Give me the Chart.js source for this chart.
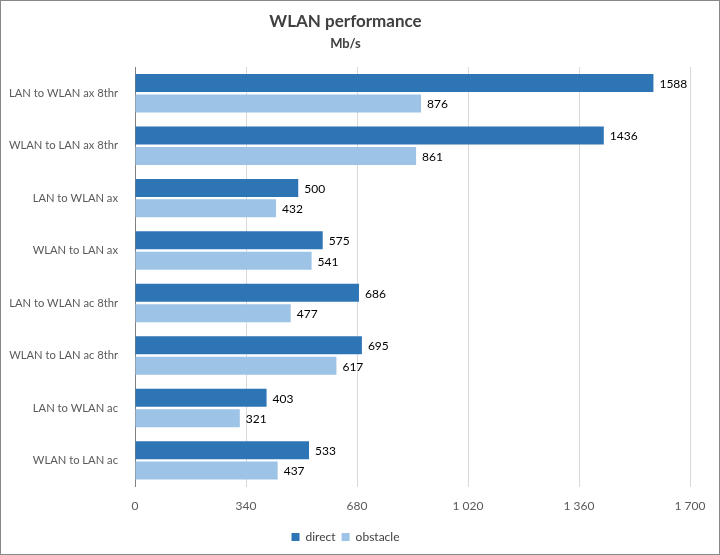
<!DOCTYPE html>
<html>
<head>
<meta charset="utf-8">
<script src="https://cdn.jsdelivr.net/npm/chart.js@4/dist/chart.umd.min.js"></script>
<style>
  html, body { margin: 0; padding: 0; background: #fff; }
  #wrap { position: relative; width: 718px; height: 553px; border: 1px solid #888; }
</style>
</head>
<body>
<div id="wrap"><canvas id="myChart"></canvas></div>
<script>
// chart data
const categories = ['LAN to WLAN ax 8thr', 'WLAN to LAN ax 8thr', 'LAN to WLAN ax', 'WLAN to LAN ax',
    'LAN to WLAN ac 8thr', 'WLAN to LAN ac 8thr', 'LAN to WLAN ac', 'WLAN to LAN ac'];
const direct = [1588, 1436, 500, 575, 686, 695, 403, 533];
const obstacle = [876, 861, 432, 541, 477, 617, 321, 437];
const xTicks = [0, 340, 680, 1020, 1360, 1700];

const fontFamily = 'Lato, "Open Sans", sans-serif';

// format numbers with a space as thousands separator
function fmt(v) {
    return String(v).replace(/\B(?=(\d{3})+(?!\d))/g, ' ');
}

// draw value labels at the end of each bar
const barLabels = {
    id: 'barLabels',
    afterDatasetsDraw(chart) {
        const ctx = chart.ctx;
        ctx.save();
        ctx.font = '12px ' + fontFamily;
        ctx.fillStyle = '#000';
        ctx.textBaseline = 'middle';
        chart.data.datasets.forEach((ds, i) => {
            chart.getDatasetMeta(i).data.forEach((bar, j) => {
                ctx.fillText(ds.data[j], bar.x + 6, bar.y + 1);
            });
        });
        ctx.restore();
    }
};

var ctx = document.getElementById('myChart').getContext('2d');
var myChart = new Chart(ctx, {
    type: 'bar',
    data: {
        labels: categories,
        datasets: [{
            label: 'direct',
            data: direct,
            backgroundColor: '#2E75B6'
        }, {
            label: 'obstacle',
            data: obstacle,
            backgroundColor: '#9DC3E6'
        }]
    },
    options: {
        indexAxis: 'y',
        responsive: true,
        maintainAspectRatio: false,
        animation: false,
        layout: { padding: { left: 0, right: 29, top: 8, bottom: 1 } },
        datasets: { bar: { categoryPercentage: 0.78, barPercentage: 0.88 } },
        scales: {
            x: {
                min: 0,
                max: 1700,
                afterBuildTicks: s => { s.ticks = xTicks.map(v => ({ value: v })); },
                grid: { color: '#d9d9d9', drawTicks: false },
                border: { display: false },
                ticks: {
                    padding: 12,
                    color: '#595959',
                    font: { family: fontFamily, size: 12 },
                    callback: v => fmt(v)
                }
            },
            y: {
                afterFit: s => { s.width = 134; },
                grid: { display: false },
                border: { color: '#808080' },
                ticks: {
                    padding: 9,
                    color: '#595959',
                    font: { family: fontFamily, size: 11.2 }
                }
            }
        },
        plugins: {
            title: {
                display: true,
                text: 'WLAN performance',
                color: '#404040',
                font: { family: fontFamily, size: 17, weight: 'bold' },
                padding: { top: 2, bottom: 3 }
            },
            subtitle: {
                display: true,
                text: 'Mb/s',
                color: '#404040',
                font: { family: fontFamily, size: 13, weight: 'bold' },
                padding: { top: 2, bottom: 15 }
            },
            legend: {
                position: 'bottom',
                labels: {
                    boxWidth: 8,
                    boxHeight: 8,
                    padding: 6,
                    color: '#404040',
                    font: { family: fontFamily, size: 12 }
                }
            },
            tooltip: { enabled: false }
        }
    },
    plugins: [barLabels]
});
</script>
</body>
</html>
